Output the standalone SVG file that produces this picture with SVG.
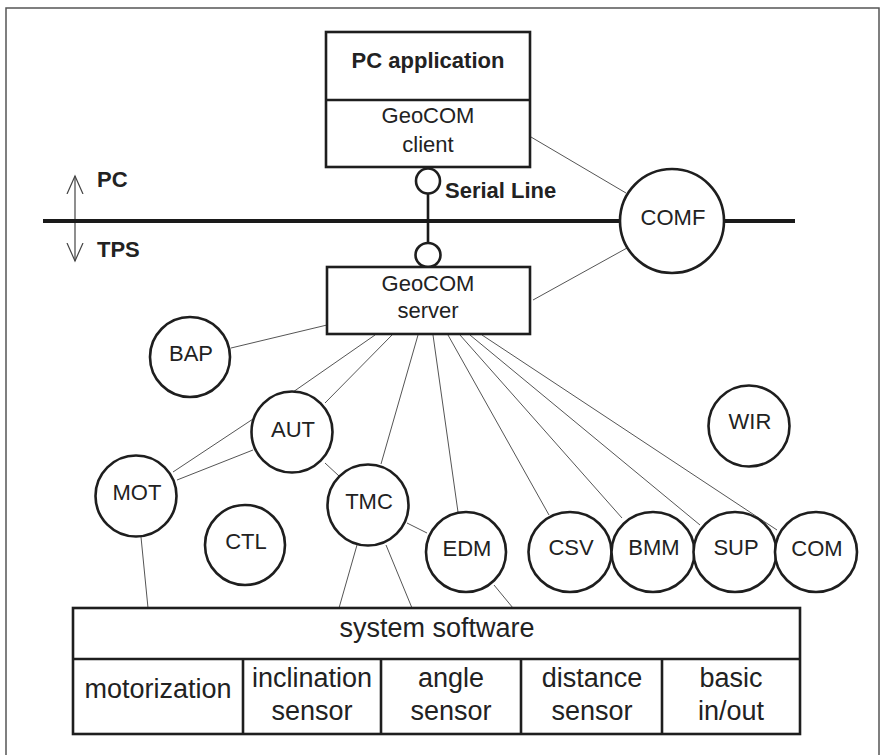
<svg xmlns="http://www.w3.org/2000/svg" width="883" height="755" viewBox="0 0 883 755">
<style>
  .box { fill: #fff; stroke: #1e1e1e; stroke-width: 2.6; }
  .node { fill: #fff; stroke: #1e1e1e; stroke-width: 2.6; }
  .thin { stroke: #555; stroke-width: 1; fill: none; }
  .t { font-family: "Liberation Sans", Arial, sans-serif; font-size: 22px; fill: #222; text-anchor: middle; }
  .b { font-family: "Liberation Sans", Arial, sans-serif; font-size: 22px; font-weight: bold; fill: #222; }
  .big { font-family: "Liberation Sans", Arial, sans-serif; font-size: 27px; fill: #222; text-anchor: middle; }
</style>
<defs>
  <marker id="open" viewBox="0 0 20 20" refX="18" refY="10" markerWidth="20" markerHeight="20" markerUnits="userSpaceOnUse" orient="auto-start-reverse">
    <path d="M0,2 L18,10 L0,18" fill="none" stroke="#444" stroke-width="1.2"/>
  </marker>
</defs>
<rect width="883" height="755" fill="#fff"/>
<path d="M6,760 L6,8 L879,8 L879,760" fill="none" stroke="#555" stroke-width="1.5"/>

<g id="pc-tps-arrow">
  <line x1="75" y1="176" x2="75" y2="261" stroke="#444" stroke-width="1.2" marker-start="url(#open)" marker-end="url(#open)"/>
  <text class="b" x="97" y="187" font-size="21">PC</text>
  <text class="b" x="97" y="257" font-size="21">TPS</text>
</g>

<g id="bus">
  <line x1="43" y1="221" x2="795" y2="221" stroke="#1a1a1a" stroke-width="4"/>
</g>

<g id="connectors">
  <line class="thin" x1="531" y1="137" x2="626" y2="193"/>
  <line class="thin" x1="533" y1="300" x2="627" y2="248"/>
  <line class="thin" x1="231" y1="348" x2="327" y2="325"/>
  <line class="thin" x1="375" y1="335" x2="293" y2="392"/>
  <line class="thin" x1="392" y1="335" x2="325" y2="403"/>
  <line class="thin" x1="418" y1="335" x2="381" y2="464"/>
  <line class="thin" x1="433" y1="335" x2="458" y2="512"/>
  <line class="thin" x1="448" y1="335" x2="549" y2="515"/>
  <line class="thin" x1="460" y1="335" x2="622" y2="518"/>
  <line class="thin" x1="470" y1="335" x2="700" y2="525"/>
  <line class="thin" x1="482" y1="335" x2="777" y2="530"/>
  <line class="thin" x1="173" y1="472" x2="253" y2="419"/>
  <line class="thin" x1="177" y1="480" x2="253" y2="450"/>
  <line class="thin" x1="325" y1="463" x2="339" y2="476"/>
  <line class="thin" x1="407" y1="523" x2="427" y2="533"/>
  <line class="thin" x1="141" y1="537" x2="148" y2="608"/>
  <line class="thin" x1="357" y1="545" x2="339" y2="608"/>
  <line class="thin" x1="386" y1="545" x2="412" y2="608"/>
  <line class="thin" x1="494" y1="585" x2="513" y2="608"/>
  <line x1="428" y1="193" x2="428" y2="243" stroke="#1a1a1a" stroke-width="2.6"/>
</g>

<g id="pc-application">
  <rect class="box" x="326" y="32" width="204" height="135"/>
  <line x1="326" y1="100" x2="530" y2="100" stroke="#1e1e1e" stroke-width="2.6"/>
  <text class="b" x="428" y="68" text-anchor="middle">PC application</text>
  <text class="t" x="428" y="123">GeoCOM</text>
  <text class="t" x="428" y="152">client</text>
</g>

<g id="serial-line">
  <ellipse class="node" cx="428" cy="181" rx="12" ry="12.5"/>
  <ellipse class="node" cx="428" cy="255" rx="12.5" ry="12"/>
  <text class="b" x="445" y="198">Serial Line</text>
</g>

<g id="geocom-server">
  <rect class="box" x="327" y="267" width="203" height="67"/>
  <text class="t" x="428" y="291">GeoCOM</text>
  <text class="t" x="428" y="318">server</text>
</g>

<g id="COMF"><circle class="node" cx="672" cy="221" r="52"/><text class="t" x="673" y="225">COMF</text></g>
<g id="BAP"><circle class="node" cx="190" cy="357" r="40"/><text class="t" x="191" y="361">BAP</text></g>
<g id="AUT"><circle class="node" cx="292" cy="432" r="40.5"/><text class="t" x="293" y="437">AUT</text></g>
<g id="MOT"><circle class="node" cx="136" cy="496" r="40.5"/><text class="t" x="137" y="500">MOT</text></g>
<g id="CTL"><circle class="node" cx="245" cy="545" r="40"/><text class="t" x="246" y="549">CTL</text></g>
<g id="TMC"><circle class="node" cx="368" cy="505" r="40.5"/><text class="t" x="369" y="509">TMC</text></g>
<g id="EDM"><circle class="node" cx="466" cy="552" r="40"/><text class="t" x="467" y="556">EDM</text></g>
<g id="WIR"><circle class="node" cx="749" cy="426" r="40.5"/><text class="t" x="750" y="429">WIR</text></g>
<g id="CSV"><ellipse class="node" cx="570" cy="552" rx="41.5" ry="40"/><text class="t" x="571" y="555">CSV</text></g>
<g id="BMM"><ellipse class="node" cx="653" cy="552" rx="41.5" ry="40"/><text class="t" x="654" y="555">BMM</text></g>
<g id="SUP"><ellipse class="node" cx="735" cy="552" rx="41.5" ry="40"/><text class="t" x="736" y="555">SUP</text></g>
<g id="COM"><ellipse class="node" cx="816" cy="552" rx="41" ry="40"/><text class="t" x="817" y="556">COM</text></g>

<g id="system-software">
  <rect class="box" x="73" y="608" width="727" height="126"/>
  <line x1="73" y1="659" x2="800" y2="659" stroke="#1e1e1e" stroke-width="2.6"/>
  <line x1="243" y1="659" x2="243" y2="734" stroke="#1e1e1e" stroke-width="2.6"/>
  <line x1="381" y1="659" x2="381" y2="734" stroke="#1e1e1e" stroke-width="2.6"/>
  <line x1="521" y1="659" x2="521" y2="734" stroke="#1e1e1e" stroke-width="2.6"/>
  <line x1="662" y1="659" x2="662" y2="734" stroke="#1e1e1e" stroke-width="2.6"/>
  <text class="big" x="437" y="637">system software</text>
  <text class="big" x="158" y="698">motorization</text>
  <text class="big" x="312" y="687">inclination</text>
  <text class="big" x="312" y="720">sensor</text>
  <text class="big" x="451" y="687">angle</text>
  <text class="big" x="451" y="720">sensor</text>
  <text class="big" x="592" y="687">distance</text>
  <text class="big" x="592" y="720">sensor</text>
  <text class="big" x="731" y="687">basic</text>
  <text class="big" x="731" y="720">in/out</text>
</g>
</svg>
